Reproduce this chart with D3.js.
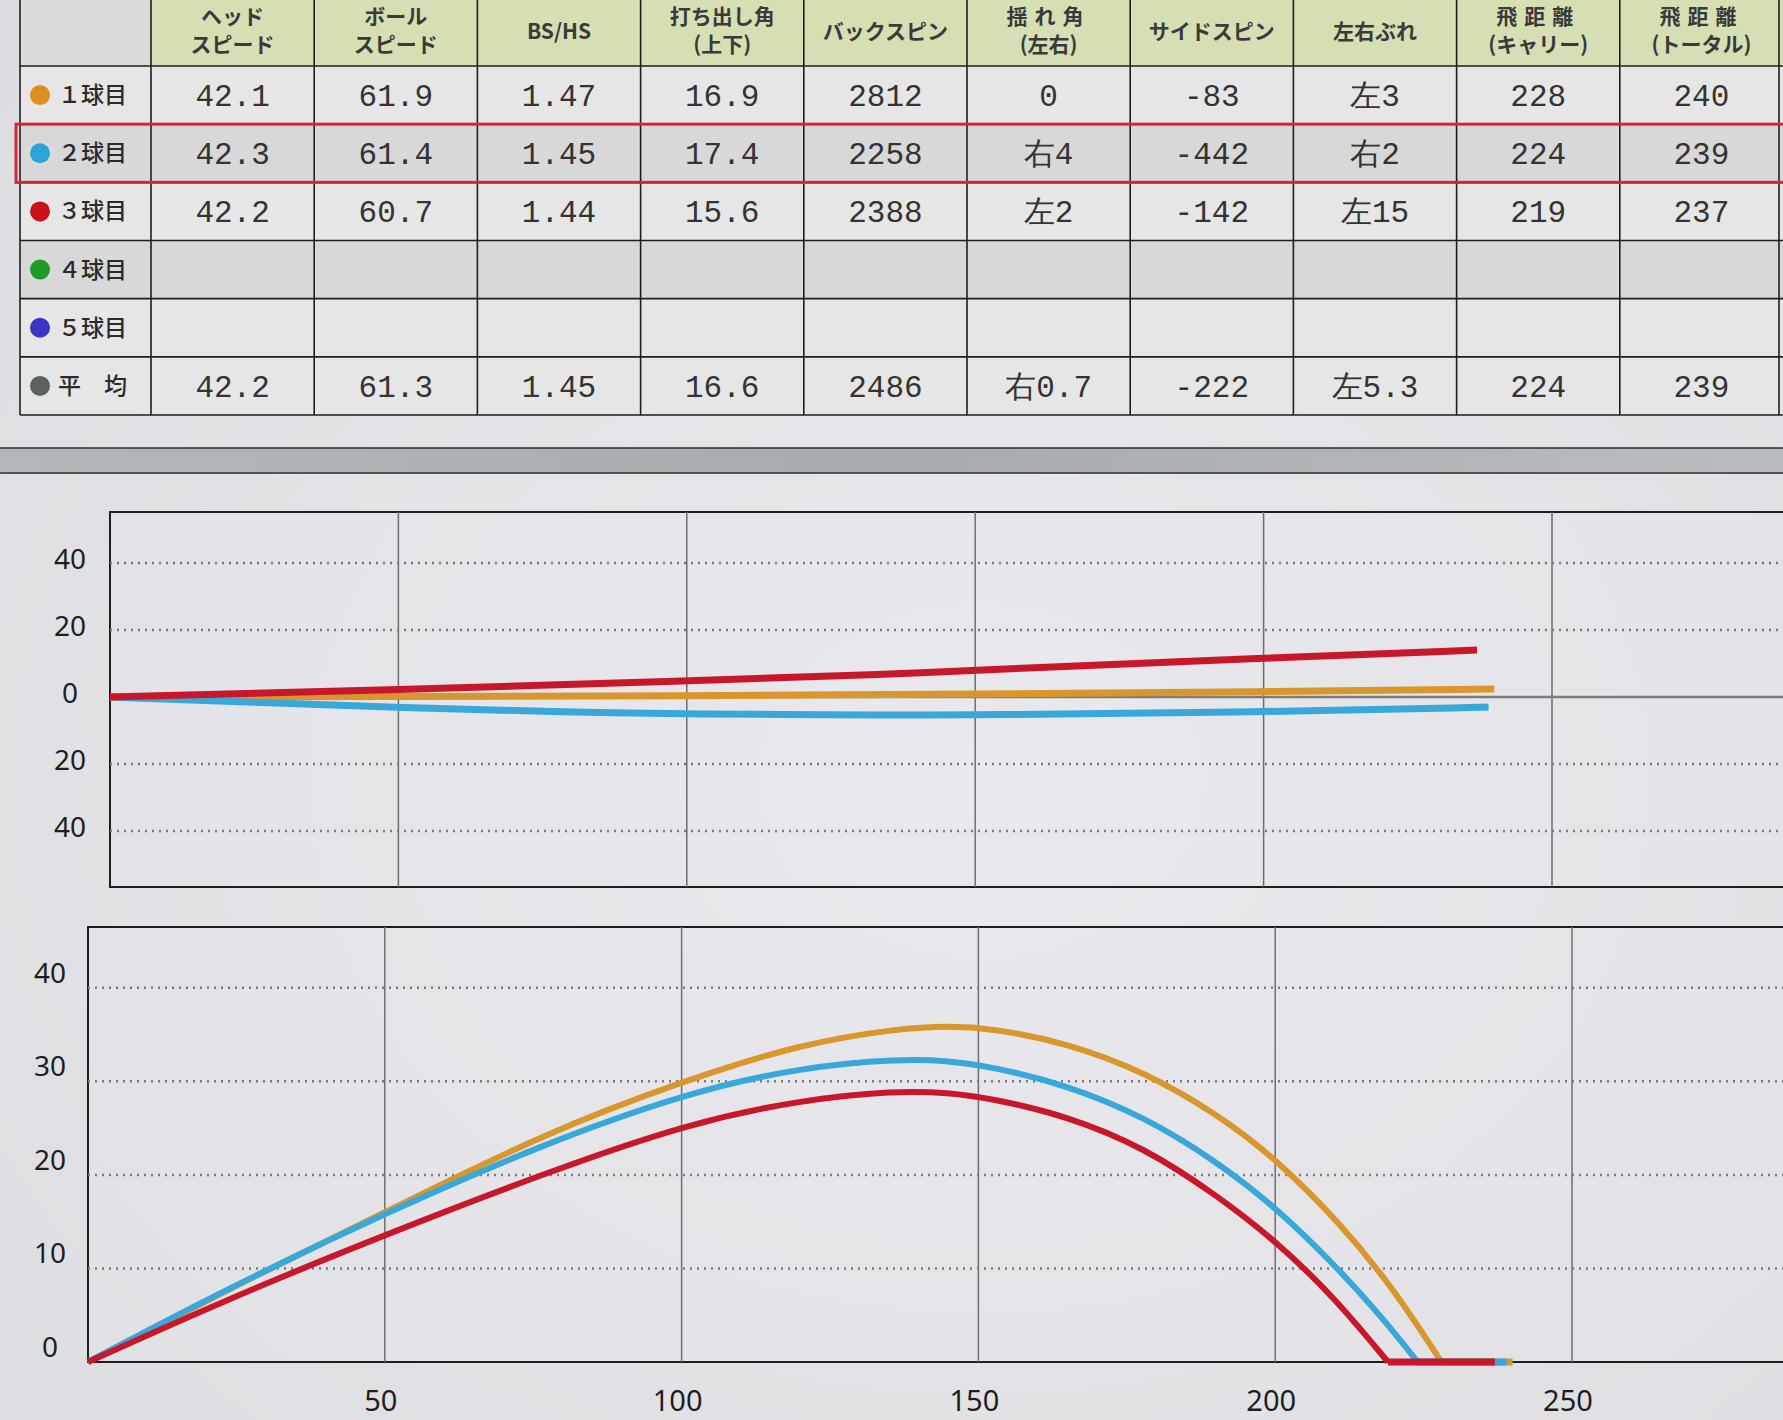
<!DOCTYPE html>
<html lang="ja">
<head>
<meta charset="utf-8">
<title>弾道データ</title>
<script src="https://d3js.org/d3.v7.min.js"></script>
<style>
  body { margin: 0; background: #e2e2e4; }
  svg { display: block; }
</style>
</head>
<body>
<script>
// --- table data ---
var headers = [["ヘッド", "スピード"], ["ボール", "スピード"], ["BS/HS"], ["打ち出し角", "(上下)"],
  ["バックスピン"], ["揺れ角", "(左右)"], ["サイドスピン"], ["左右ぶれ"], ["飛距離", "(キャリー)"], ["飛距離", "(トータル)"]];
var spacedHeaders = ["揺れ角", "飛距離"];
var rowLabels = ["１球目", "２球目", "３球目", "４球目", "５球目", "平　均"];
var rowColors = ["#de8f22", "#2ea2d8", "#cc1018", "#1f9a26", "#3d33c6", "#5a6163"];
var ball1Values = ["42.1", "61.9", "1.47", "16.9", "2812", "0", "-83", "左3", "228", "240"];
var ball2Values = ["42.3", "61.4", "1.45", "17.4", "2258", "右4", "-442", "右2", "224", "239"];
var ball3Values = ["42.2", "60.7", "1.44", "15.6", "2388", "左2", "-142", "左15", "219", "237"];
var ball4Values = [];
var ball5Values = [];
var averageValues = ["42.2", "61.3", "1.45", "16.6", "2486", "右0.7", "-222", "左5.3", "224", "239"];

// --- chart data (yards) ---
var seriesColors = ["#d8962c", "#38a8da", "#c8172b"];
var carry = [228, 224, 219];
var total = [240, 239, 237];
var xTicks = [50, 100, 150, 200, 250];
var sideTicks = [-40, -20, 0, 20, 40];
var heightTicks = [10, 20, 30, 40];

// lateral (left is up)
var ball1SideX = [0, 50, 100, 150, 200, 240];
var ball1SideY = [0, 0.1, 0.3, 0.9, 1.5, 2.4];
var ball2SideX = [0, 25, 50, 80, 100, 137, 150, 200, 239];
var ball2SideY = [0, -1.6, -3.2, -4.5, -5.1, -5.4, -5.4, -4.5, -3.0];
var ball3SideX = [0, 50, 100, 137, 150, 200, 237];
var ball3SideY = [0, 2.1, 4.8, 6.9, 8.0, 11.6, 14.0];

// height
var ball1HeightX = [0, 25, 50, 77, 101, 120, 137, 145, 152, 165, 178, 190, 200, 211, 220, 228];
var ball1HeightY = [0, 8.2, 16.0, 24.5, 30.2, 34.0, 35.7, 35.9, 35.7, 34.1, 31.0, 26.6, 21.8, 14.8, 7.8, 0];
var ball2HeightX = [0, 23, 50, 77, 101, 120, 137, 145, 152, 165, 178, 190, 200, 210, 218, 224];
var ball2HeightY = [0, 7.7, 15.9, 23.4, 28.8, 31.5, 32.4, 32.2, 31.6, 29.6, 26.2, 21.5, 16.6, 10.4, 4.8, 0];
var ball3HeightX = [0, 23, 50, 77, 101, 120, 136, 145, 152, 165, 178, 190, 200, 210, 219];
var ball3HeightY = [0, 6.6, 13.6, 20.2, 25.5, 28.0, 29.0, 28.8, 28.2, 26.3, 22.9, 17.9, 13.0, 6.9, 0];

var tableRows = [ball1Values, ball2Values, ball3Values, ball4Values, ball5Values, averageValues];
var sideSeries = [[ball1SideX, ball1SideY], [ball2SideX, ball2SideY], [ball3SideX, ball3SideY]];
var heightSeries = [[ball1HeightX, ball1HeightY], [ball2HeightX, ball2HeightY], [ball3HeightX, ball3HeightY]];

var w = 1783, h = 1420;
var jp = "'Noto Sans CJK JP', 'Noto Sans', sans-serif";
var svg = d3.select("body").append("svg").attr("width", w).attr("height", h);

var defs = svg.append("defs");
var bg = defs.append("radialGradient").attr("id", "screen").attr("cx", "55%").attr("cy", "55%").attr("r", "75%");
bg.append("stop").attr("offset", "0%").attr("stop-color", "#ebeaee");
bg.append("stop").attr("offset", "100%").attr("stop-color", "#dcdde0");
var band = defs.append("linearGradient").attr("id", "band").attr("x1", 0).attr("x2", 1);
band.append("stop").attr("offset", "0%").attr("stop-color", "#b2b7ba");
band.append("stop").attr("offset", "50%").attr("stop-color", "#a6abae");
band.append("stop").attr("offset", "100%").attr("stop-color", "#b9bdbf");

svg.append("rect").attr("width", w).attr("height", h).attr("fill", "url(#screen)");

// ---------- table ----------
var colX = d3.scaleBand().domain(d3.range(headers.length)).range([151, 1783]);
var rowY = d3.scaleBand().domain(d3.range(rowLabels.length)).range([66, 415]);
var leftX = 20;

var table = svg.append("g");
table.append("rect").attr("x", leftX).attr("y", -5).attr("width", 151 - leftX).attr("height", 71)
  .attr("fill", "#dbdbdb");
table.selectAll("rect.head").data(headers).enter().append("rect")
  .attr("class", "head")
  .attr("x", function (d, i) { return colX(i); })
  .attr("y", -5).attr("width", colX.bandwidth()).attr("height", 71)
  .attr("fill", "#d5dfb3");

table.selectAll("text.head").data(headers).enter().append("text")
  .attr("class", "head")
  .attr("x", function (d, i) { return colX(i) + colX.bandwidth() / 2; })
  .attr("y", function (d) { return d.length === 2 ? 24 : 39; })
  .attr("text-anchor", "middle")
  .style("font-family", jp)
  .attr("font-size", 21).attr("font-weight", "bold").attr("fill", "#3a3a3a")
  .each(function (d) {
    var t = d3.select(this);
    d.forEach(function (line, j) {
      t.append("tspan").attr("x", t.attr("x")).attr("dy", j === 0 ? 0 : 28)
        .attr("letter-spacing", spacedHeaders.indexOf(line) >= 0 ? 7 : 0)
        .text(line);
    });
  });

var rows = table.selectAll("g.row").data(tableRows).enter().append("g").attr("class", "row");
rows.append("rect")
  .attr("x", leftX).attr("y", function (d, i) { return rowY(i); })
  .attr("width", w - leftX).attr("height", rowY.bandwidth())
  .attr("fill", function (d, i) { return (i === 1 || i === 3) ? "#d8d8d9" : "#e6e6e7"; });

rows.append("circle")
  .attr("cx", 40).attr("cy", function (d, i) { return rowY(i) + rowY.bandwidth() / 2; })
  .attr("r", 10).attr("fill", function (d, i) { return rowColors[i]; });
rows.append("text")
  .attr("x", 58).attr("y", function (d, i) { return rowY(i) + rowY.bandwidth() / 2 + 8; })
  .style("font-family", jp)
  .attr("font-size", 23).attr("font-weight", 500).attr("fill", "#2a2a2a")
  .text(function (d, i) { return rowLabels[i]; });

rows.each(function (vals, i) {
  d3.select(this).selectAll("text.val").data(vals).enter().append("text")
    .attr("class", "val")
    .attr("x", function (v, j) { return colX(j) + colX.bandwidth() / 2; })
    .attr("y", rowY(i) + rowY.bandwidth() / 2 + 11)
    .attr("text-anchor", "middle")
    .style("font-family", "'Liberation Mono', 'DejaVu Sans Mono', monospace")
    .attr("font-size", 31).attr("fill", "#333")
    .text(function (v) { return v; });
});

// grid lines of table
table.selectAll("line.rowline").data(d3.range(rowLabels.length + 1)).enter().append("line")
  .attr("x1", leftX).attr("x2", w)
  .attr("y1", function (i) { return i < rowLabels.length ? rowY(i) : 415; })
  .attr("y2", function (i) { return i < rowLabels.length ? rowY(i) : 415; })
  .attr("stroke", "#1e1e1e").attr("stroke-width", 1.6);
table.selectAll("line.colline").data(d3.range(headers.length + 1)).enter().append("line")
  .attr("x1", function (i) { return i < headers.length ? colX(i) : w - 4; })
  .attr("x2", function (i) { return i < headers.length ? colX(i) : w - 4; })
  .attr("y1", -5).attr("y2", 415)
  .attr("stroke", "#1e1e1e").attr("stroke-width", 1.6);
table.append("line").attr("x1", leftX).attr("x2", leftX).attr("y1", -5).attr("y2", 415)
  .attr("stroke", "#1e1e1e").attr("stroke-width", 1.6);
// selected row
table.append("rect").attr("x", 16).attr("y", rowY(1)).attr("width", w).attr("height", rowY.bandwidth())
  .attr("fill", "none").attr("stroke", "#d0283a").attr("stroke-width", 3);

// separator band
svg.append("rect").attr("x", -2).attr("y", 448).attr("width", w + 4).attr("height", 25)
  .attr("fill", "url(#band)").attr("stroke", "#2c2c2c").attr("stroke-width", 1.5);

// ---------- helpers ----------
function grid(g, x, y, top, bottom, left, hTicks, zeroSolid) {
  g.selectAll("line.vg").data(xTicks).enter().append("line")
    .attr("x1", x).attr("x2", x).attr("y1", top).attr("y2", bottom)
    .attr("stroke", "#6e6e70").attr("stroke-width", 1.5);
  g.selectAll("line.hg").data(hTicks.filter(function (d) { return d !== 0; })).enter().append("line")
    .attr("x1", left).attr("x2", w + 10)
    .attr("y1", y).attr("y2", y)
    .attr("stroke", "#7a7a7c").attr("stroke-width", 2.5).attr("stroke-dasharray", "2,5");
  if (zeroSolid) {
    g.append("line").attr("x1", left).attr("x2", w + 10)
      .attr("y1", y(0)).attr("y2", y(0))
      .attr("stroke", "#7c7c7e").attr("stroke-width", 2.5);
  }
}

// ---------- lateral chart ----------
var sx = d3.scaleLinear().domain([0, 250]).range([110, 1552]);
var sy = d3.scaleLinear().domain([-56.7, 55.2]).range([887, 512]);
var top1 = svg.append("g");
top1.append("rect").attr("x", 110).attr("y", 512).attr("width", w).attr("height", 375)
  .attr("fill", "#e7e7ea").attr("fill-opacity", 0.4).attr("stroke", "#1e1e1e").attr("stroke-width", 2);
grid(top1, function (d) { return sx(d); }, function (d) { return sy(d); }, 512, 887, 110, sideTicks, true);

top1.selectAll("text.yl").data(sideTicks).enter().append("text")
  .attr("x", 70).attr("y", function (d) { return sy(d) + 6; })
  .attr("text-anchor", "middle").style("font-family", "'Noto Sans', sans-serif")
  .attr("font-size", 28).attr("fill", "#1e1e1e")
  .text(function (d) { return Math.abs(d); });

var sideLine = d3.line().x(function (p) { return sx(p[0]); }).y(function (p) { return sy(p[1]); })
  .curve(d3.curveBasis);
top1.selectAll("path.side").data(sideSeries).enter().append("path")
  .attr("d", function (s) { return sideLine(s[0].map(function (v, k) { return [v, s[1][k]]; })); })
  .attr("fill", "none").attr("stroke", function (s, i) { return seriesColors[i]; })
  .attr("stroke-width", 7);

// ---------- height chart ----------
var hx = d3.scaleLinear().domain([0, 250]).range([88, 1572]);
var hy = d3.scaleLinear().domain([0, 46.5]).range([1362, 927]);
var bot = svg.append("g");
bot.append("rect").attr("x", 88).attr("y", 927).attr("width", w).attr("height", 435)
  .attr("fill", "#e7e7ea").attr("fill-opacity", 0.4).attr("stroke", "#1e1e1e").attr("stroke-width", 2);
grid(bot, function (d) { return hx(d); }, function (d) { return hy(d); }, 927, 1362, 88, heightTicks, false);

bot.selectAll("text.yl").data([0].concat(heightTicks)).enter().append("text")
  .attr("x", 50).attr("y", function (d) { return hy(d) - 5; })
  .attr("text-anchor", "middle").style("font-family", "'Noto Sans', sans-serif")
  .attr("font-size", 28).attr("fill", "#1e1e1e")
  .text(function (d) { return d; });
bot.selectAll("text.xl").data(xTicks).enter().append("text")
  .attr("x", function (d) { return hx(d) - 4; }).attr("y", 1411)
  .attr("text-anchor", "middle").style("font-family", "'Noto Sans', sans-serif")
  .attr("font-size", 29).attr("fill", "#1e1e1e")
  .text(function (d) { return d; });

var heightLine = d3.line().x(function (p) { return hx(p[0]); }).y(function (p) { return hy(p[1]); })
  .curve(d3.curveBasis);
var flights = bot.selectAll("g.flight").data(heightSeries).enter().append("g").attr("class", "flight");
flights.append("path")
  .attr("d", function (s) { return heightLine(s[0].map(function (v, k) { return [v, s[1][k]]; })); })
  .attr("fill", "none").attr("stroke", function (s, i) { return seriesColors[i]; })
  .attr("stroke-width", 6);
flights.append("line")
  .attr("x1", function (s, i) { return hx(carry[i]); }).attr("x2", function (s, i) { return hx(total[i]); })
  .attr("y1", hy(0)).attr("y2", hy(0))
  .attr("stroke", function (s, i) { return seriesColors[i]; }).attr("stroke-width", 7);
</script>
</body>
</html>
